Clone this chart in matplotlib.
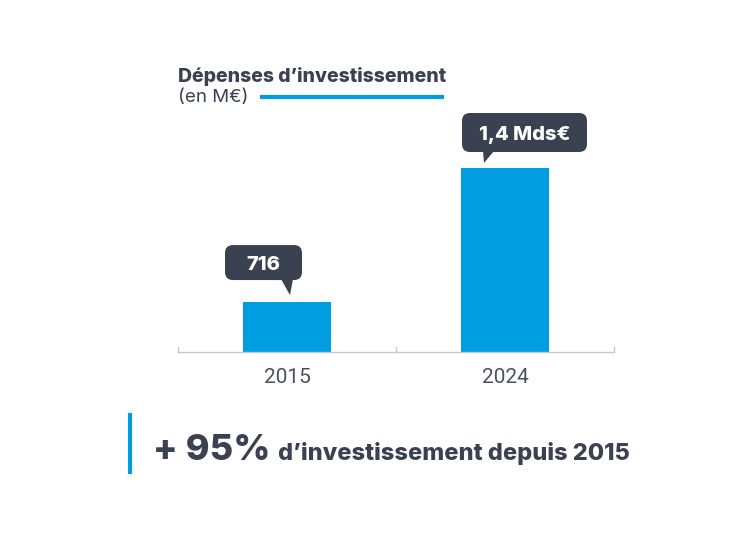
import matplotlib
matplotlib.use("Agg")
import matplotlib.pyplot as plt
import matplotlib.patches as patches
from matplotlib.transforms import IdentityTransform
from matplotlib import font_manager

# Data (bars are not drawn to scale in the original, heights)
years = ["2015", "2024"]
bar_heights = [380, 1400]
bar_labels = ["716", "1,4 Mds€"]

W, H = 755, 535
BLUE = "#009ee0"
DARK = "#3a4150"
GREY_TXT = "#4a5060"
AXIS = "#c8c8c8"

names = {f.name for f in font_manager.fontManager.ttflist}
BOLD = "Inter" if "Inter" in names else "DejaVu Sans"
YEARF = "Roboto" if "Roboto" in names else "DejaVu Sans"


def fx(x):
    return x / W


def fy(y):
    return 1 - y / H


fig = plt.figure(figsize=(W / 100, H / 100), dpi=100)
fig.patch.set_facecolor("white")

# axes: x 178..614 px, baseline y=352, top (1400) at y=168
ax = fig.add_axes([fx(178), fy(352), (614 - 178) / W, (352 - 168) / H])
ax.bar(range(len(years)), bar_heights, width=0.4, color=BLUE)
ax.set_xlim(-0.5, 1.5)
ax.set_ylim(0, max(bar_heights))
for s in ["top", "right", "left"]:
    ax.spines[s].set_visible(False)
ax.spines["bottom"].set_color(AXIS)
ax.spines["bottom"].set_linewidth(1)
ax.set_yticks([])
ax.set_xticks([])
# small upward ticks at the cell edges
for xe in [-0.5, 0.5, 1.5]:
    ax.plot([xe, xe], [0, 40], color=AXIS, lw=1, clip_on=False)
for i, y in enumerate(years):
    ax.text(i, -0.085, y, transform=ax.get_xaxis_transform(), ha="center", va="top",
            fontsize=15, color=GREY_TXT, family=YEARF)

# callouts (offsets in pixels relative to bar top centre)
callouts = [
    # box x0, x1, y0, y1 (up), tail points
    ((-62, 15, 22, 57), [(-6, 23), (6, 23), (3, 7)]),
    ((-43, 82, 16, 55), [(-22, 17), (-11, 17), (-21, 5)]),
]
fig.canvas.draw()
ident = IdentityTransform()
for i, ((x0, x1, y0, y1), tail) in enumerate(callouts):
    axp, ayp = ax.transData.transform((i, bar_heights[i]))
    box = patches.FancyBboxPatch((axp + x0, ayp + y0), x1 - x0, y1 - y0,
                                 boxstyle="round,pad=0,rounding_size=8",
                                 fc=DARK, ec="none", transform=ident)
    fig.add_artist(box)
    tri = patches.Polygon([(axp + a, ayp + b) for a, b in tail], closed=True,
                          fc=DARK, ec="none", transform=ident)
    fig.add_artist(tri)
    fig.text(axp + (x0 + x1) / 2, ayp + (y0 + y1) / 2, bar_labels[i], transform=ident,
             ha="center", va="center_baseline", fontsize=14.5, fontweight="heavy",
             color="white", family=BOLD)

# title
fig.text(fx(178), fy(76), "Dépenses d\u2019investissement", ha="left", va="center",
         fontsize=14, fontweight="heavy", color=DARK, family=BOLD)
fig.text(fx(178), fy(98), "(en M€)", ha="left", va="center",
         fontsize=13.5, color=DARK, family=BOLD)
fig.add_artist(plt.Line2D([fx(262), fx(442)], [fy(97), fy(97)], color=BLUE, lw=3,
                          transform=fig.transFigure))

# bottom statement
fig.add_artist(plt.Line2D([fx(130), fx(130)], [fy(415), fy(472)], color=BLUE, lw=3,
                          transform=fig.transFigure))
big = fig.text(fx(153), fy(460), "+ 95%", ha="left", va="baseline",
               fontsize=26, fontweight="heavy", color=DARK, family=BOLD)
fig.canvas.draw()
bx1 = big.get_window_extent().x1
fig.text(bx1 + 8, H - 460, "d\u2019investissement depuis 2015", ha="left", va="baseline",
         fontsize=17, fontweight="heavy", color=DARK, family=BOLD, transform=ident)

fig.savefig("out.png", dpi=100, facecolor="white")
